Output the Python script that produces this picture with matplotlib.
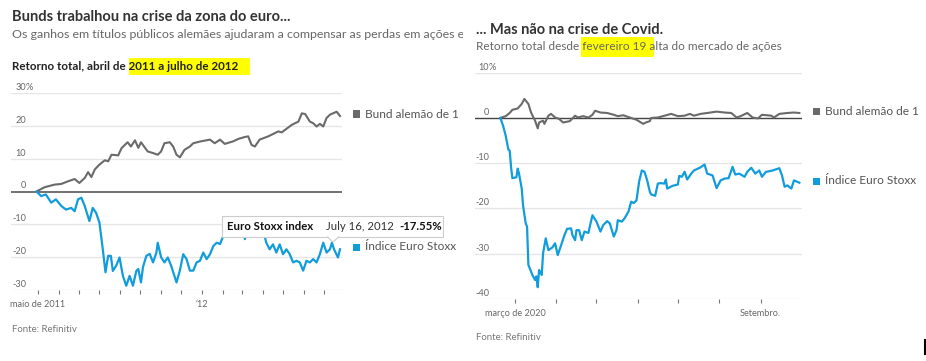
'''
Bunds vs Euro Stoxx: eurozone crisis (2011-12) and Covid crisis (2020).
'''

import matplotlib
matplotlib.use('Agg')
import matplotlib.pyplot as plt
import matplotlib.transforms as mtransforms
from matplotlib.patches import Rectangle, Polygon
from matplotlib.lines import Line2D
import pandas as pd

# ---- data: euro crisis, total return (%) ----
euro_bund_dates = [
    '2011-04-29', '2011-05-11', '2011-05-26', '2011-06-05', '2011-06-15', '2011-06-25',
    '2011-07-02', '2011-07-10', '2011-07-15', '2011-07-20', '2011-07-25', '2011-08-01',
    '2011-08-09', '2011-08-14', '2011-08-19', '2011-08-29', '2011-09-03', '2011-09-12',
    '2011-09-17', '2011-09-23', '2011-09-28', '2011-10-02', '2011-10-12', '2011-10-20',
    '2011-10-27', '2011-11-01', '2011-11-06', '2011-11-14', '2011-11-19', '2011-11-24',
    '2011-11-29', '2011-12-06', '2011-12-14', '2011-12-19', '2011-12-31', '2012-01-13',
    '2012-01-20', '2012-01-28', '2012-02-04', '2012-02-17', '2012-02-24', '2012-03-05',
    '2012-03-10', '2012-03-15', '2012-03-20', '2012-03-27', '2012-04-09', '2012-04-24',
    '2012-04-29', '2012-05-14', '2012-05-24', '2012-05-29', '2012-06-03', '2012-06-10',
    '2012-06-15', '2012-06-20', '2012-06-25', '2012-06-30', '2012-07-05', '2012-07-10',
    '2012-07-20', '2012-07-25']
euro_bund = [
    0.0, 1.3, 2.1, 2.3, 3.1, 3.8,
    2.6, 4.1, 5.9, 4.4, 6.7, 8.2,
    9.5, 9.2, 11.2, 11.0, 13.2, 15.0,
    13.7, 15.6, 13.3, 15.0, 12.2, 11.7,
    11.2, 12.2, 14.7, 15.0, 13.7, 11.2,
    10.4, 12.7, 13.7, 14.7, 15.3, 15.8,
    14.7, 15.8, 14.5, 15.3, 16.0, 16.6,
    16.8, 14.2, 13.7, 15.8, 16.8, 18.3,
    18.0, 20.3, 21.3, 23.8, 23.6, 21.3,
    20.8, 19.8, 20.6, 19.8, 22.4, 23.4,
    24.3, 23.0]

euro_stoxx_dates = [
    '2011-04-29', '2011-05-06', '2011-05-13', '2011-05-21', '2011-05-28', '2011-06-05',
    '2011-06-12', '2011-06-20', '2011-06-25', '2011-06-30', '2011-07-05', '2011-07-10',
    '2011-07-17', '2011-07-22', '2011-07-27', '2011-08-01', '2011-08-06', '2011-08-10',
    '2011-08-14', '2011-08-18', '2011-08-21', '2011-08-26', '2011-08-31', '2011-09-05',
    '2011-09-10', '2011-09-15', '2011-09-20', '2011-09-25', '2011-09-28', '2011-10-02',
    '2011-10-05', '2011-10-10', '2011-10-15', '2011-10-20', '2011-10-25', '2011-10-27',
    '2011-11-01', '2011-11-06', '2011-11-11', '2011-11-16', '2011-11-24', '2011-11-29',
    '2011-12-04', '2011-12-09', '2011-12-14', '2011-12-19', '2011-12-24', '2011-12-29',
    '2012-01-03', '2012-01-08', '2012-01-13', '2012-01-18', '2012-01-23', '2012-01-28',
    '2012-02-02', '2012-02-07', '2012-02-14', '2012-02-24', '2012-03-02', '2012-03-05',
    '2012-03-09', '2012-03-16', '2012-03-22', '2012-03-28', '2012-04-01', '2012-04-06',
    '2012-04-11', '2012-04-16', '2012-04-21', '2012-04-26', '2012-05-01', '2012-05-06',
    '2012-05-11', '2012-05-16', '2012-05-21', '2012-05-26', '2012-05-31', '2012-06-05',
    '2012-06-10', '2012-06-15', '2012-06-20', '2012-06-25', '2012-06-30', '2012-07-05',
    '2012-07-10', '2012-07-13', '2012-07-16', '2012-07-22', '2012-07-25']
euro_stoxx = [
    0.0, -1.4, -0.9, -3.4, -2.4, -4.4,
    -5.5, -5.0, -6.0, -2.4, -1.9, -4.4,
    -9.0, -5.0, -6.5, -9.5, -17.6, -24.6,
    -19.6, -19.6, -24.2, -22.6, -20.1, -25.7,
    -28.7, -25.7, -28.7, -24.2, -23.6, -27.7,
    -23.0, -19.6, -19.0, -21.6, -18.6, -15.6,
    -20.0, -21.6, -20.1, -22.6, -27.7, -24.1,
    -19.1, -20.6, -24.1, -24.1, -21.6, -21.1,
    -18.6, -20.6, -19.1, -16.6, -15.6, -16.0,
    -13.5, -13.0, -12.0, -11.5, -11.0, -14.5,
    -11.0, -9.5, -10.5, -12.5, -11.5, -15.6,
    -17.6, -16.1, -18.6, -16.1, -19.1, -17.6,
    -19.1, -21.6, -21.1, -21.6, -24.1, -21.1,
    -21.6, -20.6, -21.6, -19.1, -15.6, -18.6,
    -17.6, -15.6, -17.55, -20.1, -17.6]

# ---- data: Covid crisis, total return since Feb 19 2020 (%) ----
covid_bund_dates = [
    '2020-02-19', '2020-02-23', '2020-02-26', '2020-02-28', '2020-03-03', '2020-03-06',
    '2020-03-08', '2020-03-11', '2020-03-13', '2020-03-16', '2020-03-18', '2020-03-19',
    '2020-03-22', '2020-03-23', '2020-03-26', '2020-03-28', '2020-03-31', '2020-04-03',
    '2020-04-06', '2020-04-11', '2020-04-15', '2020-04-17', '2020-04-21', '2020-04-25',
    '2020-04-28', '2020-04-30', '2020-05-04', '2020-05-09', '2020-05-14', '2020-05-17',
    '2020-05-21', '2020-05-26', '2020-05-31', '2020-06-05', '2020-06-07', '2020-06-10',
    '2020-06-11', '2020-06-16', '2020-06-21', '2020-06-26', '2020-07-01', '2020-07-06',
    '2020-07-10', '2020-07-13', '2020-07-18', '2020-07-23', '2020-07-30', '2020-08-05',
    '2020-08-10', '2020-08-14', '2020-08-17', '2020-08-22', '2020-08-26', '2020-08-30',
    '2020-09-02', '2020-09-09', '2020-09-11', '2020-09-15', '2020-09-21', '2020-09-26',
    '2020-09-30']
covid_bund = [
    0.0, 0.4, 1.1, 1.8, 2.1, 3.1,
    4.2, 3.1, 1.2, -0.6, -2.3, -1.0,
    -0.6, -1.3, 0.5, 0.9, 0.1, -0.2,
    -1.0, -0.7, 0.5, 0.1, 0.4, 0.1,
    0.7, 1.6, 1.2, 1.1, 0.7, 0.4,
    0.6, 0.1, -0.4, -1.3, -1.0, -0.7,
    0.0, 0.1, 0.5, 0.9, 0.4, 0.5,
    0.9, 0.5, 0.9, 1.1, 1.4, 1.2,
    1.1, 0.1, 0.4, 1.1, 0.1, -0.1,
    0.7, 0.5, 0.1, 0.9, 1.1, 1.2,
    1.1]

covid_stoxx_dates = [
    '2020-02-19', '2020-02-21', '2020-02-23', '2020-02-25', '2020-02-26', '2020-02-27',
    '2020-02-28', '2020-03-02', '2020-03-03', '2020-03-04', '2020-03-06', '2020-03-07',
    '2020-03-09', '2020-03-10', '2020-03-11', '2020-03-12', '2020-03-14', '2020-03-16',
    '2020-03-17', '2020-03-18', '2020-03-19', '2020-03-21', '2020-03-22', '2020-03-24',
    '2020-03-26', '2020-03-29', '2020-03-31', '2020-04-02', '2020-04-05', '2020-04-07',
    '2020-04-09', '2020-04-12', '2020-04-13', '2020-04-15', '2020-04-16', '2020-04-18',
    '2020-04-20', '2020-04-22', '2020-04-25', '2020-04-26', '2020-04-28', '2020-05-01',
    '2020-05-04', '2020-05-06', '2020-05-09', '2020-05-11', '2020-05-14', '2020-05-16',
    '2020-05-17', '2020-05-20', '2020-05-22', '2020-05-25', '2020-05-27', '2020-05-29',
    '2020-05-31', '2020-06-02', '2020-06-04', '2020-06-06', '2020-06-08', '2020-06-10',
    '2020-06-11', '2020-06-14', '2020-06-16', '2020-06-18', '2020-06-21', '2020-06-22',
    '2020-06-23', '2020-06-27', '2020-07-01', '2020-07-02', '2020-07-04', '2020-07-06',
    '2020-07-08', '2020-07-11', '2020-07-13', '2020-07-16', '2020-07-18', '2020-07-21',
    '2020-07-23', '2020-07-27', '2020-07-30', '2020-08-02', '2020-08-05', '2020-08-08',
    '2020-08-11', '2020-08-13', '2020-08-16', '2020-08-20', '2020-08-22', '2020-08-25',
    '2020-08-28', '2020-08-31', '2020-09-02', '2020-09-05', '2020-09-07', '2020-09-10',
    '2020-09-12', '2020-09-15', '2020-09-17', '2020-09-19', '2020-09-21', '2020-09-24',
    '2020-09-26', '2020-09-30']
covid_stoxx = [
    0.0, -1.7, -3.9, -7.0, -7.2, -10.8,
    -13.3, -13.1, -11.2, -12.3, -15.6, -19.3,
    -23.3, -24.0, -32.5, -33.2, -34.7, -35.8,
    -35.0, -37.4, -33.6, -34.7, -29.9, -26.6,
    -29.2, -28.6, -27.7, -30.3, -27.7, -25.9,
    -24.5, -24.4, -25.9, -27.0, -24.8, -24.8,
    -27.0, -25.1, -25.4, -24.0, -21.5, -22.9,
    -25.1, -23.7, -22.8, -23.3, -26.2, -24.8,
    -22.6, -22.9, -22.2, -20.7, -18.5, -18.8,
    -18.2, -14.0, -11.6, -11.9, -13.8, -16.3,
    -16.9, -17.2, -14.5, -14.4, -14.5, -13.6,
    -15.6, -15.0, -14.7, -12.8, -13.0, -11.9,
    -13.6, -12.3, -11.6, -11.2, -10.9, -10.3,
    -12.3, -12.7, -15.5, -13.8, -13.4, -13.3,
    -10.8, -12.5, -12.3, -13.0, -11.9, -11.0,
    -12.3, -11.6, -13.0, -11.9, -11.8, -11.6,
    -11.4, -11.1, -12.7, -15.2, -14.9, -15.6,
    -13.8, -14.3]

euro_yticks = [30, 20, 10, 0, -10, -20, -30]
covid_yticks = [10, 0, -10, -20, -30, -40]

euro_xticks = pd.date_range('2011-05-01', '2012-07-01', freq='MS')
euro_xlabels = ['maio de 2011' if d == euro_xticks[0] else
                '\u201812' if (d.month == 1) else '' for d in euro_xticks]
covid_xticks = pd.date_range('2020-03-01', '2020-09-01', freq='MS')
covid_xlabels = ['março de 2020' if d.month == 3 else
                 'Setembro.' if d.month == 9 else '' for d in covid_xticks]

# ---- style ----
W, H = 926, 361
FONT = 'Lato'
GRAY = '#6a6a6a'
BLUE = '#119cdb'
GRID = '#e6e6e6'
TXT = '#333333'
SUB = '#666666'

plt.rcParams['font.family'] = [FONT, 'DejaVu Sans']

fig = plt.figure(figsize=(W / 100, H / 100), dpi=100)
fig.patch.set_facecolor('white')


def fx(x):
    return x / W


def fy(y):
    return 1 - y / H


def ptext(x, y, s, **kw):
    '''Put text at pixel position (x, y from top).'''
    kw.setdefault('va', 'center')
    kw.setdefault('ha', 'left')
    return fig.text(fx(x), fy(y), s, **kw)


def panel(rect_px, ylim, yticks, xlim, xticks, xlabels, zero_color, zero_lw,
          label_right, top_label):
    x0, y0, x1, y1 = rect_px
    ax = fig.add_axes([fx(x0), fy(y1), (x1 - x0) / W, (y1 - y0) / H])
    ax.set_ylim(*ylim)
    ax.set_xlim(pd.Timestamp(xlim[0]), pd.Timestamp(xlim[1]))
    for s in ax.spines.values():
        s.set_visible(False)
    ax.set_yticks([])
    for v in yticks:
        if v == 0:
            ax.axhline(0, color=zero_color, lw=zero_lw, zorder=3)
        else:
            ax.axhline(v, color=GRID, lw=1.0, zorder=0)
    # value labels sit just above the gridlines
    trans = mtransforms.offset_copy(
        mtransforms.blended_transform_factory(ax.transAxes, ax.transData),
        fig=fig, y=1, units='dots')
    xa = (label_right - x0) / (x1 - x0)
    for v in yticks:
        ax.text(xa, v, str(v), transform=trans, ha='right', va='bottom',
                fontsize=6.6, color=SUB)
        if v == top_label:
            ax.text(xa, v, '%', transform=trans, ha='left', va='bottom',
                    fontsize=6.6, color=SUB)
    ax.set_xticks(xticks)
    ax.set_xticklabels(xlabels)
    ax.tick_params(axis='x', length=3, width=0.8, color='#777777', pad=4,
                   labelsize=6.6, labelcolor=SUB)
    return ax


# ---- left panel: euro crisis ----
ax1 = panel((11, 93, 342, 290), (-30, 30), euro_yticks,
            ('2011-03-22', '2012-07-28'), euro_xticks, euro_xlabels,
            '#707070', 1.4, 26, 30)
ax1.plot(pd.to_datetime(euro_bund_dates), euro_bund, color=GRAY, lw=1.5, zorder=4)
ax1.plot(pd.to_datetime(euro_stoxx_dates), euro_stoxx, color=BLUE, lw=1.6, zorder=4)

# ---- right panel: Covid ----
ax2 = panel((475, 72.7, 802, 299), (-40, 10), covid_yticks,
            ('2020-01-31', '2020-10-02'), covid_xticks, covid_xlabels,
            '#444444', 1.0, 489, 10)
ax2.plot(pd.to_datetime(covid_bund_dates), covid_bund, color=GRAY, lw=1.5, zorder=4)
ax2.plot(pd.to_datetime(covid_stoxx_dates), covid_stoxx, color=BLUE, lw=1.6, zorder=4)

# ---- titles ----
ptext(12, 17, 'Bunds trabalhou na crise da zona do euro...', fontsize=10.5,
      fontweight='bold', color=TXT)
sub = ptext(12, 35, 'Os ganhos em títulos públicos alemães ajudaram a compensar '
            'as perdas em ações e', fontsize=8.9, color=SUB)
clip = mtransforms.TransformedBbox(mtransforms.Bbox([[0, 0], [463 / W, 1]]),
                                   fig.transFigure)
sub.set_clip_box(clip)
sub.set_clip_on(True)

fig.patches.append(Rectangle((fx(129), fy(75)), 121 / W, 17 / H,
                             transform=fig.transFigure, fc='#ffff00', ec='none',
                             zorder=1))
ptext(12, 66, 'Retorno total, abril de 2011 a julho de 2012', fontsize=8.4,
      fontweight='bold', color='#222222')

ptext(476, 30, '... Mas não na crise de Covid.', fontsize=10.5,
      fontweight='bold', color=TXT)
fig.patches.append(Rectangle((fx(581), fy(57)), 73 / W, 20 / H,
                             transform=fig.transFigure, fc='#ffff00', ec='none',
                             zorder=1))
ptext(476, 46, 'Retorno total desde fevereiro 19 alta do mercado de ações',
      fontsize=8.5, color=SUB)

# ---- legend labels ----
for (sx, sy, tx, label, col) in [(353, 114, 365, 'Bund alemão de 1', GRAY),
                                  (353, 247, 365, 'Índice Euro Stoxx', BLUE),
                                  (813, 112, 825, 'Bund alemão de 1', GRAY),
                                  (813, 181, 825, 'Índice Euro Stoxx', BLUE)]:
    fig.patches.append(Rectangle((fx(sx), fy(sy + 3.5)), 7 / W, 7 / H,
                                 transform=fig.transFigure, fc=col, ec='none'))
    ptext(tx, sy, label, fontsize=8.6, color='#555555')

# ---- tooltip ----
fig.patches.append(Rectangle((fx(222), fy(237)), 221 / W, 21 / H,
                             transform=fig.transFigure, fc='white', ec='#cccccc',
                             lw=0.8, zorder=5))
fig.patches.append(Polygon([(fx(327), fy(236.6)), (fx(333), fy(242)),
                            (fx(339), fy(236.6))], closed=False,
                           transform=fig.transFigure, fc='white', ec='#cccccc',
                           lw=0.8, zorder=5))
ptext(227, 227, 'Euro Stoxx index', fontsize=8.2, fontweight='bold',
      color='#111111', zorder=6)
ptext(326, 227, 'July 16, 2012', fontsize=8.2, color='#333333', zorder=6)
ptext(442, 227, '-17.55%', fontsize=8.2, fontweight='bold', color='#111111',
      ha='right', zorder=6)

# ---- sources ----
ptext(12, 330, 'Fonte: Refinitiv', fontsize=6.9, color='#777777')
ptext(476, 338, 'Fonte: Refinitiv', fontsize=6.9, color='#777777')

# stray cursor mark at the bottom right of the screenshot
fig.lines.append(Line2D([fx(924.5), fx(924.5)], [fy(340), fy(354)],
                        transform=fig.transFigure, color='black', lw=1.5))

fig.savefig('out.png', dpi=100, facecolor='white')
